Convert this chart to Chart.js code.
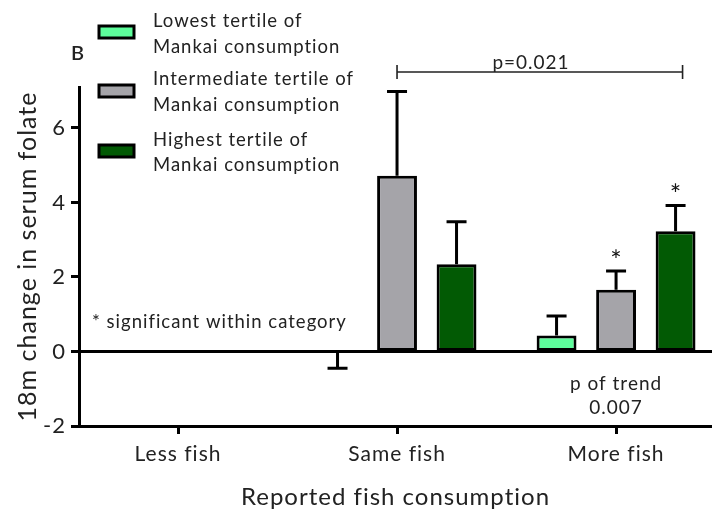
<!DOCTYPE html>
<html>
<head>
<meta charset="utf-8">
<script src="https://cdn.jsdelivr.net/npm/chart.js@4.4.0/dist/chart.umd.min.js"></script>
<style>
  html, body { margin: 0; padding: 0; background: #fff; overflow: hidden; }
  #wrap { width: 712px; height: 514px; }
</style>
</head>
<body>
<div id="wrap"><canvas id="c" width="712" height="514"></canvas></div>
<script>
// Serum folate change (18 months) by reported fish consumption and Mankai tertile
const categories = ['Less fish', 'Same fish', 'More fish'];
const seriesLabels = [
  ['Lowest tertile of', 'Mankai consumption'],
  ['Intermediate tertile of', 'Mankai consumption'],
  ['Highest tertile of', 'Mankai consumption']
];
const seriesColors = ['#5dfd9b', '#a5a4a9', '#025a04'];

const lowest = [null, -0.03, 0.43];
const lowestErr = [null, 0.42, 0.52];
const intermediate = [null, 4.72, 1.66];
const intermediateErr = [null, 2.26, 0.50];
const highest = [null, 2.34, 3.23];
const highestErr = [null, 1.14, 0.69];

// '*' = significant within category
const lowestStar = [false, false, false];
const intermediateStar = [false, false, true];
const highestStar = [false, false, true];

const yTicks = [-2, 0, 2, 4, 6];
const yMin = -2;
const yMax = 7.1;

const panelLetter = 'B';
const footnote = '* significant within category';
const bracketText = 'p=0.021';
const trendNote = ['p of trend', '0.007'];
const yTitle = '18m change in serum folate';
const xTitle = 'Reported fish consumption';

const FONT = 'Lato';
const TEXT = '#222';

const series = [
  { label: seriesLabels[0], values: lowest, err: lowestErr, star: lowestStar, color: seriesColors[0] },
  { label: seriesLabels[1], values: intermediate, err: intermediateErr, star: intermediateStar, color: seriesColors[1] },
  { label: seriesLabels[2], values: highest, err: highestErr, star: highestStar, color: seriesColors[2] }
];

const decor = {
  id: 'decor',
  beforeDraw(chart) {
    chart.ctx.letterSpacing = '1px';
  },
  afterDatasetsDraw(chart) {
    const { ctx, chartArea, scales: { x, y } } = chart;
    ctx.save();
    ctx.strokeStyle = '#000';
    ctx.lineWidth = 3;
    // baseline at zero
    const y0 = y.getPixelForValue(0);
    ctx.beginPath();
    ctx.moveTo(chartArea.left, y0);
    ctx.lineTo(chartArea.right, y0);
    ctx.stroke();

    // one-sided error bars and significance stars
    ctx.fillStyle = '#111';
    ctx.font = '27px ' + FONT;
    ctx.textAlign = 'center';
    ctx.textBaseline = 'alphabetic';
    chart.data.datasets.forEach((ds, di) => {
      const meta = chart.getDatasetMeta(di);
      meta.data.forEach((bar, i) => {
        const v = ds.data[i].y;
        if (v == null) return;
        const dir = v >= 0 ? 1 : -1;
        const yEnd = y.getPixelForValue(v + dir * ds.errors[i]);
        ctx.beginPath();
        ctx.moveTo(bar.x, bar.y);
        ctx.lineTo(bar.x, yEnd);
        ctx.moveTo(bar.x - 10, yEnd);
        ctx.lineTo(bar.x + 10, yEnd);
        ctx.stroke();
        if (ds.stars[i]) ctx.fillText('*', bar.x + 0.5, yEnd - 1);
      });
    });
    ctx.restore();
  },
  afterDraw(chart) {
    const { ctx, scales: { x, y } } = chart;
    ctx.save();
    ctx.fillStyle = TEXT;
    ctx.textBaseline = 'alphabetic';

    // legend
    const boxTop = [25, 84, 144];
    const lineBase = [[27, 52.5], [85, 110.5], [146, 170.5]];
    chart.data.datasets.forEach((ds, i) => {
      ctx.fillStyle = ds.backgroundColor;
      ctx.fillRect(99, boxTop[i] + 1, 35, 12);
      ctx.strokeStyle = '#000';
      ctx.lineWidth = 3;
      ctx.strokeRect(99, boxTop[i] + 1, 35, 12);
      ctx.fillStyle = TEXT;
      ctx.font = '18.5px ' + FONT;
      ctx.textAlign = 'left';
      ds.label.forEach((t, k) => ctx.fillText(t, 153, lineBase[i][k]));
    });

    // panel letter
    ctx.font = '600 20px ' + FONT;
    ctx.textAlign = 'left';
    ctx.fillText(panelLetter, 71, 60);

    // footnote
    ctx.font = '18.5px ' + FONT;
    ctx.fillText(footnote, 92, 328);

    // trend annotation under the "More fish" group
    ctx.textAlign = 'center';
    ctx.font = '19px ' + FONT;
    const xc = x.getPixelForValue(2);
    ctx.fillText(trendNote[0], xc, 390);
    ctx.fillText(trendNote[1], xc, 414);

    // comparison bracket between Same fish / intermediate and More fish / highest
    const bx1 = chart.getDatasetMeta(1).data[1].x;
    const bx2 = chart.getDatasetMeta(2).data[2].x + 7;
    const by = 72;
    ctx.strokeStyle = '#222';
    ctx.lineWidth = 1.6;
    ctx.beginPath();
    ctx.moveTo(bx1, by); ctx.lineTo(bx2, by);
    ctx.moveTo(bx1, by - 7); ctx.lineTo(bx1, by + 7);
    ctx.moveTo(bx2, by - 7); ctx.lineTo(bx2, by + 7);
    ctx.stroke();
    ctx.font = '19px ' + FONT;
    ctx.fillText(bracketText, 531, 69);
    ctx.restore();
  }
};

const chart = new Chart(document.getElementById('c'), {
  type: 'bar',
  data: {
    datasets: series.map(s => ({
      label: s.label,
      data: categories.map((c, i) => ({ x: i, y: s.values[i] })),
      errors: s.err,
      stars: s.star,
      backgroundColor: s.color,
      borderColor: '#000',
      borderWidth: 3,
      borderSkipped: false,
      categoryPercentage: 0.815,
      barPercentage: 0.67
    }))
  },
  options: {
    responsive: false,
    animation: false,
    devicePixelRatio: 1,
    layout: { padding: { top: 87, right: 0, bottom: 0, left: 0 } },
    plugins: { legend: { display: false }, tooltip: { enabled: false } },
    scales: {
      x: {
        type: 'linear',
        min: -0.452,
        max: 2.438,
        offset: false,
        grid: { display: true, offset: false, drawOnChartArea: false, drawTicks: true, tickLength: 8, tickWidth: 3, tickColor: '#000' },
        border: { display: true, color: '#000', width: 3 },
        afterBuildTicks: (scale) => { scale.ticks = categories.map((c, i) => ({ value: i })); },
        afterFit: (scale) => { scale.height = 88; },
        ticks: {
          autoSkip: false,
          maxRotation: 0,
          padding: 8,
          color: TEXT,
          font: { family: FONT, size: 21 },
          callback: (v) => categories[v] ?? ''
        },
        title: {
          display: true,
          text: xTitle,
          color: TEXT,
          font: { family: FONT, size: 24 },
          padding: { top: 0, bottom: 2 }
        }
      },
      y: {
        min: yMin,
        max: yMax,
        grid: { display: true, drawOnChartArea: false, drawTicks: true, tickLength: 8, tickWidth: 3, tickColor: '#000' },
        border: { display: true, color: '#000', width: 3 },
        afterBuildTicks: (scale) => { scale.ticks = yTicks.map(v => ({ value: v })); },
        afterFit: (scale) => { scale.width = 79; },
        ticks: {
          padding: 5,
          color: TEXT,
          font: { family: FONT, size: 22 }
        },
        title: {
          display: true,
          text: yTitle,
          color: TEXT,
          font: { family: FONT, size: 25 },
          padding: { top: 13, bottom: 0 }
        }
      }
    }
  },
  plugins: [decor]
});
</script>
</body>
</html>
